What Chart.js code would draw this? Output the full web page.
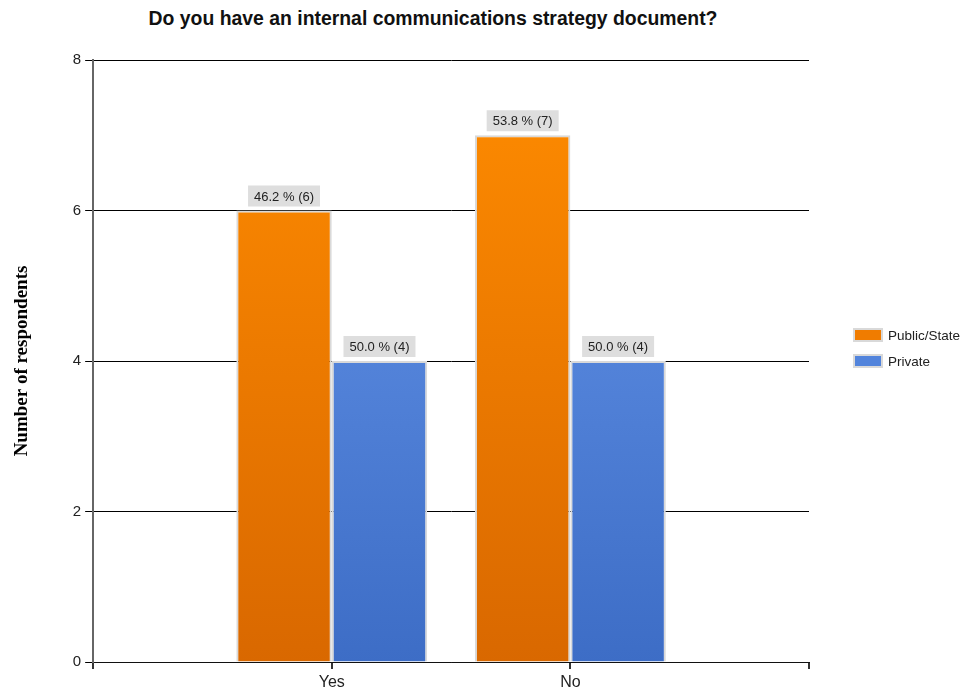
<!DOCTYPE html>
<html>
<head>
<meta charset="utf-8">
<script src="https://cdn.jsdelivr.net/npm/chart.js@4"></script>
<style>
  html, body { margin: 0; padding: 0; background: #fff; }
  #wrap { position: relative; width: 963px; height: 690px; }
  #title {
    position: absolute; left: 0; top: 7px; width: 866px;
    text-align: center; font: bold 19.4px "Liberation Sans", Arial, sans-serif; color: #111;
  }
  canvas { position: absolute; left: 0; top: 0; }
  #legend {
    position: absolute; left: 853px; top: 322px;
    font: 13.5px "Liberation Sans", Arial, sans-serif; color: #222;
  }
  #legend div { height: 26px; display: flex; align-items: center; }
  #legend span.sw {
    display: inline-block; width: 26px; height: 10px; margin-right: 5px;
    border: 2px solid #d9d9d9;
  }
</style>
</head>
<body>
<div id="wrap">
  <div id="title">Do you have an internal communications strategy document?</div>
  <canvas id="chart" width="963" height="690"></canvas>
  <div id="legend"></div>
</div>
<script>
// answers and respondent counts per sector
const categories = ["Yes", "No"];
const publicState = [6, 7];
const privateSector = [4, 4];
const yTicks = [0, 2, 4, 6, 8];

// empty slots on each side keep Yes/No at one third and two thirds of the axis
const labels = ["", ...categories, ""];
const pad = arr => [null, ...arr, null];

const total = arr => arr.reduce((a, b) => a + b, 0);
const pctLabel = (v, arr) => (v / total(arr) * 100).toFixed(1) + " % (" + v + ")";

const font = "'Liberation Sans', Arial, sans-serif";

function vGradient(top, bottom) {
  return ctx => {
    const area = ctx.chart.chartArea;
    if (!area) return top;
    const g = ctx.chart.ctx.createLinearGradient(0, area.top, 0, area.bottom);
    g.addColorStop(0, top);
    g.addColorStop(1, bottom);
    return g;
  };
}

const series = [
  { label: "Public/State", values: publicState, top: "#ff8c00", bottom: "#d96800", swatch: "#f07c00" },
  { label: "Private", values: privateSector, top: "#6898ec", bottom: "#3d6dc6", swatch: "#5284dc" }
];

// grey label boxes above each bar
const valueBoxes = {
  id: "valueBoxes",
  afterDatasetsDraw(chart) {
    const c = chart.ctx;
    c.save();
    c.font = "13px " + font;
    c.textAlign = "center";
    c.textBaseline = "middle";
    chart.data.datasets.forEach((ds, di) => {
      chart.getDatasetMeta(di).data.forEach((bar, i) => {
        const v = ds.data[i];
        if (v == null) return;
        const text = pctLabel(v, ds.raw);
        const w = c.measureText(text).width + 12;
        const h = 21;
        const y = bar.y - 4 - h;
        c.fillStyle = "#dedede";
        c.fillRect(bar.x - w / 2, y, w, h);
        c.fillStyle = "#222";
        c.fillText(text, bar.x, y + h / 2 + 1);
      });
    });
    c.restore();
  }
};

new Chart(document.getElementById("chart"), {
  type: "bar",
  data: {
    labels: labels,
    datasets: series.map(s => ({
      label: s.label,
      raw: s.values,
      data: pad(s.values),
      backgroundColor: vGradient(s.top, s.bottom),
      borderColor: "#d9d9d9",
      borderWidth: 2,
      borderSkipped: "bottom"
    }))
  },
  options: {
    responsive: false,
    animation: false,
    categoryPercentage: 0.8,
    barPercentage: 1,
    layout: { padding: { top: 60, right: 154, left: 11, bottom: -7 } },
    plugins: {
      tooltip: { enabled: false },
      legend: { display: false }
    },
    scales: {
      x: {
        offset: false,
        grid: { offset: false, drawOnChartArea: false, color: "#333", lineWidth: 2, tickLength: 7 },
        border: { color: "#111", width: 1 },
        ticks: {
          color: "#222",
          padding: 8,
          font: { family: font, size: 16, lineHeight: 0.75 },
          maxRotation: 0, autoSkip: false
        }
      },
      y: {
        min: 0, max: 8,
        afterBuildTicks: axis => { axis.ticks = yTicks.map(v => ({ value: v })); },
        grid: { color: "#000", tickLength: 8 },
        border: { color: "#666", width: 2 },
        ticks: {
          color: "#222",
          padding: 4,
          font: { family: font, size: 15 }
        },
        title: {
          display: true,
          text: "Number of respondents",
          color: "#000",
          font: { family: "'Liberation Serif', 'Times New Roman', serif", size: 19, weight: "bold" },
          padding: { top: 0, bottom: 35 }
        }
      }
    }
  },
  plugins: [valueBoxes]
});

// legend beside the plot
const legend = document.getElementById("legend");
series.forEach(s => {
  const row = document.createElement("div");
  const sw = document.createElement("span");
  sw.className = "sw";
  sw.style.background = s.swatch;
  row.appendChild(sw);
  row.appendChild(document.createTextNode(s.label));
  legend.appendChild(row);
});
</script>
</body>
</html>
